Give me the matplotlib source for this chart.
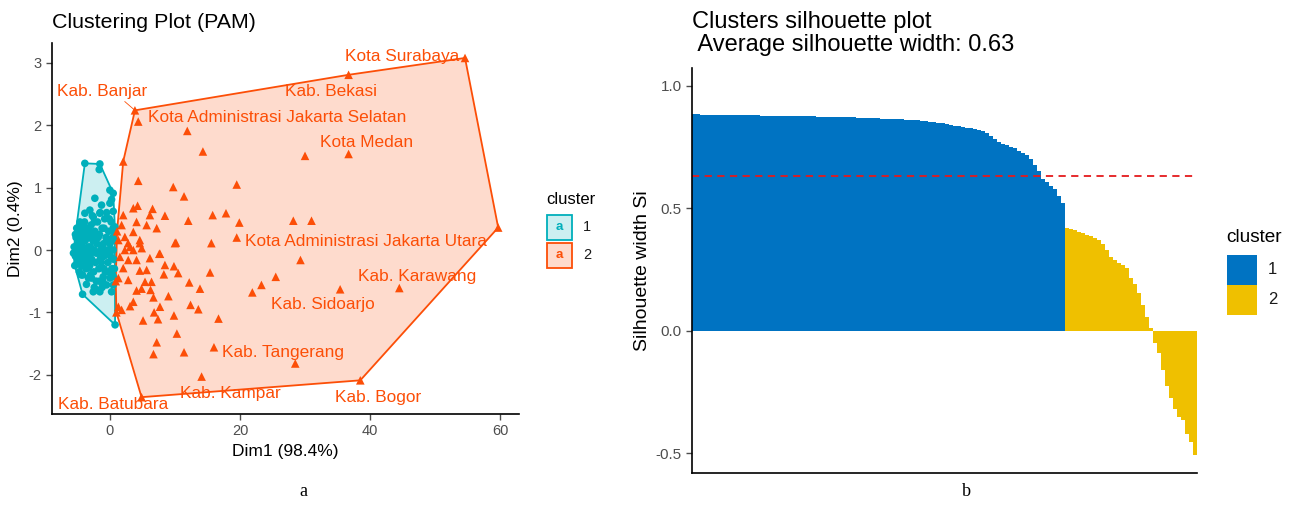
import matplotlib
matplotlib.use("Agg")
import matplotlib.pyplot as plt
from matplotlib.patches import Polygon, Rectangle
import numpy as np

plt.rcParams['font.family'] = ['Liberation Sans', 'DejaVu Sans']
plt.rcParams['axes.unicode_minus'] = False

# --- panel a: PAM clusters on the first two dimensions ---
c1_x = [-3.85, -1.54, -1.64, -2.31, -1.28, 0.0, 0.51, 0.26, 0.0, 0.51, -3.08, -3.85, -1.54, -2.56,
        -4.6, -4.1, 0.77, -4.36, -2.82, -2.05, -1.54, -2.56, -0.51, 0.26, 0.51, -4.2, 0.8, 0.51,
        -1.03, -3.33,
        -5.5, -5.3, -5.2, -5.0, -4.9, -4.8, -4.6, -4.5, -4.4, -4.2, -4.1, -4.0, -3.8, -3.7, -3.6,
        -3.5, -3.4, -3.2, -3.1, -3.0, -2.9, -2.8, -2.6, -2.5, -2.4, -2.3, -2.2, -2.0, -1.9, -1.8,
        -1.7, -1.6, -1.4, -1.3, -1.2, -1.0, -0.9, -0.8, -0.7, -0.6, -0.4, -0.3, -0.2, 0.0, 0.1,
        0.2, 0.3, 0.4, 0.5, 0.6, 0.7, -5.6, -4.7, -3.9, -3.3, -2.7, -2.1, -1.5, -1.1, -0.5, 0.0, 0.6,
        -5.4, -5.1, -4.8, -4.5, -4.2, -3.9, -3.6, -3.3, -3.0, -2.7, -2.4, -2.1, -1.8, -1.5, -1.2,
        -0.9, -0.6, -0.3, 0.2, 0.5, -5.0, -4.3, -3.5, -2.9, -2.2, -1.6, -0.9, -0.2, 0.4, -3.6,
        -2.4, -1.2, -4.6, -0.1, 0.7, -5.3, -2.0, -3.0]
c1_y = [1.39, 1.38, 1.29, 0.83, 0.72, 0.96, 0.91, 0.81, 0.75, 0.62, 0.64, 0.59, 0.59, 0.53,
        0.45, 0.35, 0.37, -0.40, -0.45, -0.64, -0.67, -0.67, -0.56, -0.67, -0.56, -0.71, -1.2, -0.43,
        -0.43, -0.29,
        0.05, -0.1, 0.2, -0.2, 0.1, 0.3, -0.05, 0.2, -0.25, 0.05, 0.25, -0.15, 0.15, -0.3, 0.0,
        0.35, -0.1, 0.2, -0.25, 0.05, 0.4, -0.15, 0.15, -0.35, 0.0, 0.3, -0.2, 0.1, 0.45, -0.05,
        -0.3, 0.25, 0.0, -0.2, 0.35, 0.1, -0.1, 0.5, -0.35, 0.2, 0.0, -0.2, 0.3, 0.1, -0.1,
        0.45, -0.3, 0.2, 0.0, -0.15, 0.15, -0.05, -0.35, 0.45, -0.45, 0.55, -0.5, 0.6, -0.5, 0.6, -0.45, 0.3,
        -0.25, 0.35, -0.2, 0.4, -0.4, -0.05, 0.3, 0.05, -0.4, 0.25, 0.45, -0.05, 0.2, -0.15, 0.05,
        0.35, -0.05, 0.15, 0.0, 0.35, 0.0, 0.1, -0.2, -0.05, 0.2, -0.5, -0.3, -0.35, -0.4, -0.55,
        -0.6, -0.6, -0.1, 0.5, -0.3, 0.25, 0.25, 0.3]

c2_x = [3.85, 4.36, 11.9, 14.3, 2.05, 4.36, 9.74, 11.4, 19.5, 4.26, 6.56, 8.46, 12.05, 15.8, 17.85,
        19.9, 19.5, 15.6, 10.15, 7.7, 3.6, 2.05, 6.15, 4.1, 5.65, 7.2, 3.6, 1.8, 2.3, 4.6, 3.1,
        10.0, 25.5, 23.3, 21.9, 15.4, 13.85, 12.2, 12.4, 13.6, 16.7, 9.0, 7.7, 6.7, 9.85, 6.8,
        7.4, 5.1, 10.3, 7.2, 6.7, 11.4, 16.0, 14.1, 8.46, 10.5, 8.3, 9.85, 7.6, 6.15, 5.65,
        4.6, 6.4, 5.4, 6.25, 4.1, 4.87, 3.6, 2.82, 3.1, 1.8, 2.82, 2.05, 4.1, 3.6, 2.3, 4.9,
        1.54, 1.3, 1.3, 28.5, 1.3, 4.6, 2.8, 1.0, 0.9, 1.1,
        30.0, 36.7, 28.2, 31.0, 29.3, 35.4, 44.5, 36.7, 54.6, 59.7, 38.5, 4.87]
c2_y = [2.24, 2.06, 1.91, 1.58, 1.42, 1.11, 1.01, 0.86, 1.05, 0.71, 0.66, 0.55, 0.47, 0.56, 0.59,
        0.44, 0.20, 0.11, 0.12, -0.06, 0.67, 0.56, 0.56, 0.45, 0.40, 0.35, 0.29, 0.40, 0.21, 0.11, 0.05,
        0.11, -0.43, -0.56, -0.68, -0.36, -0.62, -0.52, -0.88, -0.95, -1.10, -0.74, -0.91, -0.76, -1.05, -1.0,
        -1.11, -1.13, -1.34, -1.48, -1.67, -1.64, -1.56, -2.03, -0.24, -0.37, -0.39, -0.26, -0.06, -0.13, -0.32,
        -0.33, -0.51, -0.51, -0.64, -0.65, -0.62, -0.83, -0.48, -0.90, -0.96, -0.16, -0.29, -0.16, 0.0, 0.0, 0.03,
        -0.11, -0.45, -0.91, -1.82, 0.16, 0.16, 0.11, -1.0, -0.5, 0.3,
        1.51, 1.54, 0.47, 0.47, -0.16, -0.63, -0.61, 2.81, 3.08, 0.36, -2.09, -2.36]

labels = ["Kota Surabaya", "Kab. Bekasi", "Kab. Banjar", "Kota Administrasi Jakarta Selatan",
          "Kota Medan", "Kota Administrasi Jakarta Utara", "Kab. Karawang", "Kab. Sidoarjo",
          "Kab. Tangerang", "Kab. Kampar", "Kab. Bogor", "Kab. Batubara"]
label_pos = [(36.2, 3.10), (26.9, 2.54), (-8.15, 2.54), (5.85, 2.12), (32.3, 1.73), (20.8, 0.14),
             (38.2, -0.43), (24.8, -0.88), (17.2, -1.64), (10.8, -2.30), (34.6, -2.36), (-8.0, -2.47)]

# --- panel b: silhouette widths, sorted within cluster ---
sil_1 = [0.883, 0.883, 0.882, 0.882, 0.882, 0.881, 0.881, 0.881, 0.881, 0.880,
         0.880, 0.880, 0.880, 0.879, 0.879, 0.879, 0.879, 0.878, 0.878, 0.878,
         0.878, 0.878, 0.877, 0.877, 0.877, 0.876, 0.876, 0.876, 0.875, 0.875,
         0.875, 0.874, 0.874, 0.874, 0.873, 0.873, 0.872, 0.872, 0.872, 0.871,
         0.871, 0.870, 0.870, 0.869, 0.869, 0.868, 0.867, 0.866, 0.866, 0.865,
         0.864, 0.863, 0.862, 0.861, 0.860, 0.859, 0.858, 0.857, 0.855, 0.853,
         0.851, 0.849, 0.847, 0.844, 0.840, 0.836, 0.834, 0.832, 0.829, 0.827,
         0.825, 0.820, 0.814, 0.806, 0.795, 0.782, 0.770, 0.763, 0.757, 0.750,
         0.744, 0.735, 0.726, 0.717, 0.700, 0.675, 0.650, 0.620, 0.605, 0.590,
         0.578, 0.550, 0.520]
sil_2 = [0.418, 0.414, 0.410, 0.405, 0.399, 0.392, 0.386, 0.379, 0.370, 0.356,
         0.330, 0.300, 0.287, 0.277, 0.268, 0.258, 0.215, 0.190, 0.155, 0.105,
         0.055, 0.010, -0.050, -0.090, -0.160, -0.225, -0.275, -0.320, -0.350, -0.365,
         -0.420, -0.455, -0.505]
avg_sil = 0.63

teal = '#00AFBB'
orange = '#FC4E07'
blue = '#0073C2'
gold = '#EFC000'
tick_gray = '#4D4D4D'


def hull(xs, ys):
    pts = sorted(set(zip(xs, ys)))
    def cross(o, a, b):
        return (a[0]-o[0])*(b[1]-o[1]) - (a[1]-o[1])*(b[0]-o[0])
    lower, upper = [], []
    for p in pts:
        while len(lower) >= 2 and cross(lower[-2], lower[-1], p) <= 0:
            lower.pop()
        lower.append(p)
    for p in reversed(pts):
        while len(upper) >= 2 and cross(upper[-2], upper[-1], p) <= 0:
            upper.pop()
        upper.append(p)
    return lower[:-1] + upper[:-1]


def style_axes(ax, size):
    for s in ['top', 'right']:
        ax.spines[s].set_visible(False)
    for s in ['left', 'bottom']:
        ax.spines[s].set_linewidth(1.2)
        ax.spines[s].set_color('black')
    ax.tick_params(axis='both', colors=tick_gray, labelsize=size, length=4, width=1.0,
                   labelcolor=tick_gray)


fig = plt.figure(figsize=(12.9, 5.07), dpi=100)

# left panel
ax1 = fig.add_axes([52/1290, 1-414/507, (519-52)/1290, (414-43)/507])
style_axes(ax1, 10.5)
for xs, ys, col in [(c1_x, c1_y, teal), (c2_x, c2_y, orange)]:
    poly = Polygon(hull(xs, ys), closed=True, facecolor=col, alpha=0.2, edgecolor='none', zorder=1)
    ax1.add_patch(poly)
    poly = Polygon(hull(xs, ys), closed=True, facecolor='none', edgecolor=col, lw=1.3, zorder=2)
    ax1.add_patch(poly)
ax1.scatter(c1_x, c1_y, s=30, marker='o', color=teal, edgecolors='none', zorder=3)
ax1.scatter(c2_x, c2_y, s=38, marker='^', color=orange, edgecolors='none', zorder=3)
for lab, (lx, ly) in zip(labels, label_pos):
    ax1.text(lx, ly, lab, color=orange, fontsize=12.4, ha='left', va='center', zorder=4)
ax1.plot([2.3, 3.85], [2.38, 2.24], color=orange, lw=0.6, zorder=4)

ax1.set_xlim(-8.9, 62.9)
ax1.set_ylim(-2.63, 3.32)
ax1.set_xticks([0, 20, 40, 60])
ax1.set_yticks([-2, -1, 0, 1, 2, 3])
ax1.set_xlabel('Dim1 (98.4%)', fontsize=12.5, labelpad=4)
ax1.set_ylabel('Dim2 (0.4%)', fontsize=12.5, labelpad=4)
fig.text(52/1290, 1-22/507, 'Clustering Plot (PAM)', fontsize=15.4, ha='left', va='center')

# left legend
fig.text(546/1290, 1-199/507, 'cluster', fontsize=12, ha='left', va='center')
for i, (col, lab) in enumerate([(teal, '1'), (orange, '2')]):
    y0 = 214 + i*28
    fig.add_artist(Rectangle((547/1290, 1-(y0+26)/507), 25/1290, 25/507, transform=fig.transFigure,
                             facecolor=col, alpha=0.2, edgecolor='none'))
    fig.add_artist(Rectangle((547/1290, 1-(y0+26)/507), 25/1290, 25/507, transform=fig.transFigure,
                             facecolor='none', edgecolor=col, lw=1.3))
    fig.text(559.5/1290, 1-(y0+13.5)/507, 'a', color=col, fontsize=9.5, ha='center', va='center',
             fontweight='bold')
    fig.text(583/1290, 1-(y0+13)/507, lab, fontsize=10.5, color='#1A1A1A', ha='left', va='center')

# right panel
ax2 = fig.add_axes([692/1290, 1-473/507, (1197-692)/1290, (473-68)/507])
style_axes(ax2, 11)
n1, n2 = len(sil_1), len(sil_2)
ax2.bar(np.arange(n1), sil_1, width=1.0, align='edge', color=blue, linewidth=0, antialiased=False)
ax2.bar(np.arange(n1, n1+n2), sil_2, width=1.0, align='edge', color=gold, linewidth=0, antialiased=False)
ax2.axhline(avg_sil, color='#E41A1C', ls=(0, (4, 3)), lw=1.3)
ax2.set_xlim(0, n1+n2)
ax2.set_ylim(-0.58, 1.072)
ax2.set_xticks([])
ax2.set_yticks([-0.5, 0.0, 0.5, 1.0])
ax2.set_yticklabels(['-0.5', '0.0', '0.5', '1.0'])
ax2.set_ylabel('Silhouette width Si', fontsize=14, labelpad=3)
fig.text(692/1290, 1-22/507, 'Clusters silhouette plot', fontsize=17, ha='left', va='center')
fig.text(692/1290, 1-45/507, ' Average silhouette width: 0.63', fontsize=17, ha='left', va='center')

# right legend
fig.text(1226/1290, 1-238/507, 'cluster', fontsize=13.7, ha='left', va='center')
for i, (col, lab) in enumerate([(blue, '1'), (gold, '2')]):
    y0 = 255 + i*30
    fig.add_artist(Rectangle((1227/1290, 1-(y0+30)/507), 30/1290, 30/507, transform=fig.transFigure,
                             facecolor=col, edgecolor='none'))
    fig.text(1268/1290, 1-(y0+15)/507, lab, fontsize=12, color='#1A1A1A', ha='left', va='center')

# panel captions
fig.text(303/1290, 1-492/507, 'a', fontsize=13, family='Liberation Serif', ha='center', va='center')
fig.text(966/1290, 1-492/507, 'b', fontsize=13, family='Liberation Serif', ha='center', va='center')

fig.savefig('out.png', dpi=100, facecolor='white')
